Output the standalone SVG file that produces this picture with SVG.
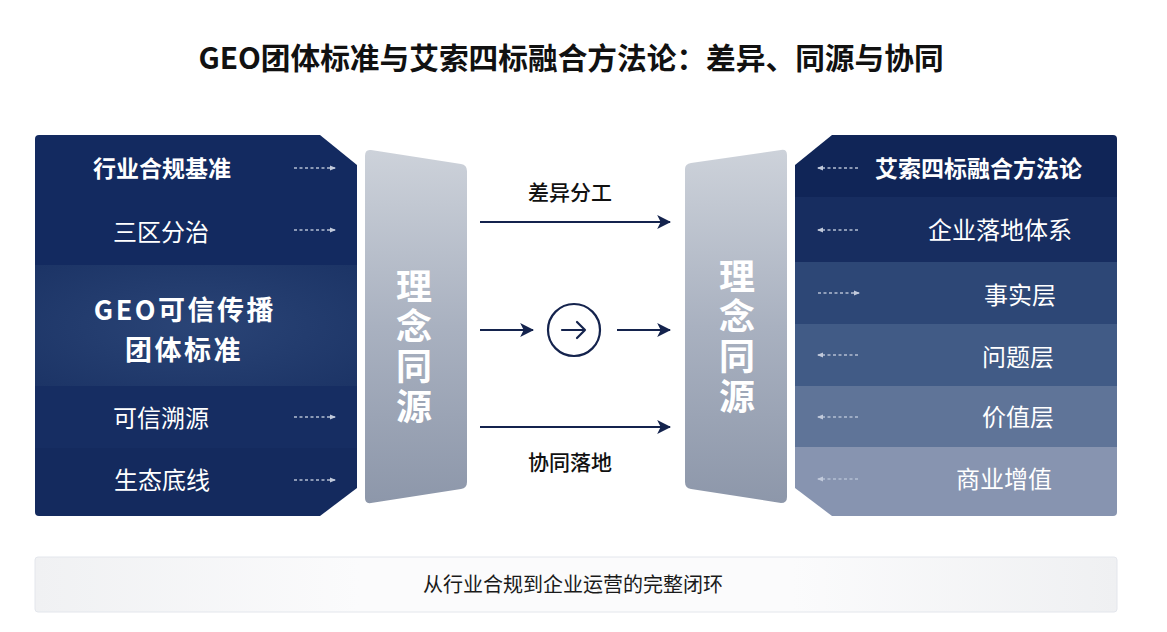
<svg xmlns="http://www.w3.org/2000/svg" width="1167" height="632" viewBox="0 0 1167 632">
<defs>
<style>
.cjk{font-family:"Noto Sans CJK SC","Noto Sans",sans-serif}
.w{fill:#ffffff}
.b{font-weight:700}
.vt{writing-mode:vertical-rl;letter-spacing:4px}
.dash{stroke:#b4bfd2;stroke-width:1.3;stroke-dasharray:3 2.5;fill:none}
.main{stroke:#14234d;stroke-width:2.2;fill:none}
</style>
<linearGradient id="slab" x1="0" y1="0" x2="0" y2="1">
<stop offset="0" stop-color="#cdd2da"/>
<stop offset="0.5" stop-color="#a9b1c0"/>
<stop offset="1" stop-color="#8d97aa"/>
</linearGradient>
<linearGradient id="barg" x1="0" y1="0" x2="1" y2="0">
<stop offset="0" stop-color="#f0f1f3"/>
<stop offset="0.3" stop-color="#fbfbfc"/>
<stop offset="0.7" stop-color="#fbfbfc"/>
<stop offset="1" stop-color="#eff0f2"/>
</linearGradient>
<radialGradient id="midband" cx="0.5" cy="0.5" r="0.7">
<stop offset="0" stop-color="#2a4476"/>
<stop offset="1" stop-color="#1c3466"/>
</radialGradient>
<clipPath id="lclip"><path d="M39,135 H320 L357,165 V488 L320,516 H39 Q35,516 35,512 V139 Q35,135 39,135 Z"/></clipPath>
<clipPath id="rclip"><path d="M832,135 H1113 Q1117,135 1117,139 V512 Q1117,516 1113,516 H832 L795,488 V165 Z"/></clipPath>
<marker id="dh" viewBox="0 0 6 6" refX="5" refY="3" markerWidth="6" markerHeight="6" markerUnits="userSpaceOnUse" orient="auto"><path d="M0,0.5 L6,3 L0,5.5 Z" fill="#c2cadb"/></marker>
<marker id="mh" viewBox="0 0 12 12" refX="11" refY="6" markerWidth="14" markerHeight="14" markerUnits="userSpaceOnUse" orient="auto"><path d="M0,0 L12,6 L0,12 L3,6 Z" fill="#14234d"/></marker>
</defs>
<rect width="1167" height="632" fill="#ffffff"/>

<text class="cjk b" x="571" y="69" font-size="29.7" text-anchor="middle" fill="#111111">GEO团体标准与艾索四标融合方法论：差异、同源与协同</text>

<g id="left-panel">
<g clip-path="url(#lclip)">
<rect x="35" y="135" width="322" height="130" fill="#132a60"/>
<rect x="35" y="265" width="322" height="121" fill="url(#midband)"/>
<rect x="35" y="386" width="322" height="62" fill="#162d62"/>
<rect x="35" y="448" width="322" height="68" fill="#142a5e"/>
</g>
<text class="cjk b w" x="162" y="177" font-size="23" text-anchor="middle">行业合规基准</text>
<text class="cjk w" x="161" y="241" font-size="24" text-anchor="middle">三区分治</text>
<text class="cjk b w" x="185" y="320" font-size="27" letter-spacing="2.5" text-anchor="middle">GEO可信传播</text>
<text class="cjk b w" x="184" y="360" font-size="27" letter-spacing="2.5" text-anchor="middle">团体标准</text>
<text class="cjk w" x="161" y="427" font-size="24" text-anchor="middle">可信溯源</text>
<text class="cjk w" x="162" y="489" font-size="24" text-anchor="middle">生态底线</text>
</g>

<g id="left-slab">
<path d="M371,150 L461,164 Q467,165 467,171 V482 Q467,488 461,489 L371,503 Q365,504 365,498 V156 Q365,149 371,150 Z" fill="url(#slab)"/>
<text class="cjk b w vt" x="414" y="268" font-size="36">理念同源</text>
</g>

<g id="right-slab">
<path d="M691,163 L781,150 Q787,149 787,155 V497 Q787,503 781,503 L691,489 Q685,488 685,482 V169 Q685,164 691,163 Z" fill="url(#slab)"/>
<text class="cjk b w vt" x="737" y="258" font-size="36">理念同源</text>
</g>

<g id="right-panel">
<g clip-path="url(#rclip)">
<rect x="795" y="135" width="322" height="62" fill="#102557"/>
<rect x="795" y="197" width="322" height="65" fill="#172d60"/>
<rect x="795" y="262" width="322" height="62" fill="#2d4776"/>
<rect x="795" y="324" width="322" height="62" fill="#415b86"/>
<rect x="795" y="386" width="322" height="61" fill="#5f7498"/>
<rect x="795" y="447" width="322" height="69" fill="#8794b0"/>
</g>
<text class="cjk b w" x="1082" y="177" font-size="23" text-anchor="end">艾索四标融合方法论</text>
<text class="cjk w" x="1072" y="239" font-size="24" text-anchor="end">企业落地体系</text>
<text class="cjk w" x="1056" y="304" font-size="24" text-anchor="end">事实层</text>
<text class="cjk w" x="1054" y="366" font-size="24" text-anchor="end">问题层</text>
<text class="cjk w" x="1054" y="426" font-size="24" text-anchor="end">价值层</text>
<text class="cjk w" x="1052" y="488" font-size="24" text-anchor="end">商业增值</text>
</g>

<g id="middle-labels">
<text class="cjk" x="570" y="200" font-size="21" font-weight="500" text-anchor="middle" fill="#111111">差异分工</text>
<text class="cjk" x="570" y="470" font-size="21" font-weight="500" text-anchor="middle" fill="#111111">协同落地</text>
</g>

<g id="hub">
<circle cx="574" cy="330" r="26" fill="#ffffff" stroke="#14234d" stroke-width="2.2"/>
<path d="M562,330 H585 M577,322 L585,330 L577,338" stroke="#14234d" stroke-width="2.2" fill="none" stroke-linecap="round" stroke-linejoin="round"/>
</g>

<g id="connectors">
<line class="main" x1="480" y1="222" x2="670" y2="222" marker-end="url(#mh)"/>
<line class="main" x1="480" y1="330" x2="533" y2="330" marker-end="url(#mh)"/>
<line class="main" x1="617" y1="330" x2="670" y2="330" marker-end="url(#mh)"/>
<line class="main" x1="480" y1="427" x2="670" y2="427" marker-end="url(#mh)"/>
<line class="dash" x1="294" y1="168" x2="335" y2="168" marker-end="url(#dh)"/>
<line class="dash" x1="294" y1="230" x2="335" y2="230" marker-end="url(#dh)"/>
<line class="dash" x1="294" y1="417" x2="335" y2="417" marker-end="url(#dh)"/>
<line class="dash" x1="294" y1="480" x2="335" y2="480" marker-end="url(#dh)"/>
<line class="dash" x1="858" y1="168" x2="818" y2="168" marker-end="url(#dh)"/>
<line class="dash" x1="858" y1="230" x2="818" y2="230" marker-end="url(#dh)"/>
<line class="dash" x1="818" y1="293" x2="859" y2="293" marker-end="url(#dh)"/>
<line class="dash" x1="858" y1="355" x2="818" y2="355" marker-end="url(#dh)"/>
<line class="dash" x1="858" y1="417" x2="818" y2="417" marker-end="url(#dh)"/>
<line class="dash" x1="858" y1="479" x2="818" y2="479" marker-end="url(#dh)"/>
</g>

<g id="bottom-bar">
<rect x="35" y="557" width="1082" height="55" rx="3" fill="url(#barg)" stroke="#e3e6ec" stroke-width="1"/>
<text class="cjk" x="573" y="592" font-size="20" text-anchor="middle" fill="#1a1a1a">从行业合规到企业运营的完整闭环</text>
</g>
</svg>
